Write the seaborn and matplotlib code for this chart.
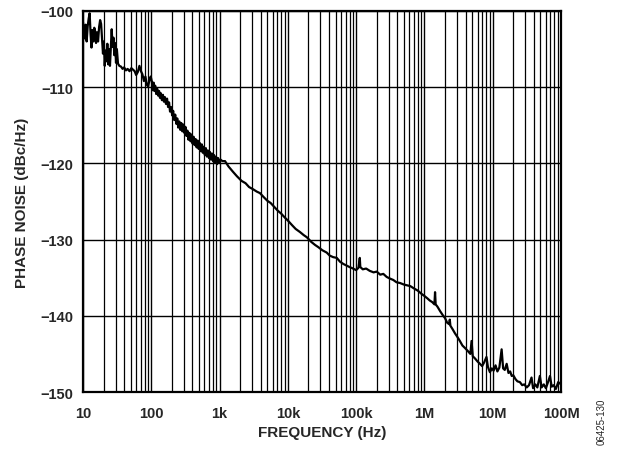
import numpy as np
import pandas as pd
import seaborn as sns
import matplotlib
matplotlib.use("Agg")
import matplotlib.pyplot as plt
from matplotlib.ticker import LogLocator, NullFormatter, FixedLocator

# phase noise, split by frequency band
freq_10_100 = [
    10.0, 10.3, 10.6, 10.9, 11.3, 11.7, 12.1, 12.5, 12.9, 13.3, 13.7, 14.2, 14.6, 15.0,
    15.5, 16.0, 16.6, 17.2, 17.8, 18.4, 19.0, 19.6, 20.2, 20.8, 21.4, 22.0, 22.7, 23.4,
    24.1, 24.8, 25.5, 26.3, 27.1, 27.9, 28.7, 29.5, 30.4, 31.3, 32.5, 34.0, 36.0, 38.0,
    40.0, 42.5, 45.0, 48.0, 51.0, 54.0, 57.0, 60.0, 63.5, 67.0, 70.5, 74.0, 78.0, 82.0,
    86.0, 90.0, 94.0, 98.0,
]
pn_10_100 = [
    -101.5, -102.9, -103.6, -101.8, -104.0, -102.0, -101.0, -100.3, -103.0, -104.8, -102.5,
    -104.0, -102.2, -102.6, -104.2, -102.8, -104.0, -102.1, -101.2, -101.7, -103.8, -105.6,
    -104.0, -107.2, -105.2, -106.6, -104.3, -107.0, -105.0, -107.2, -104.8, -102.4, -104.7,
    -103.5, -105.8, -104.2, -106.8, -105.0, -106.9, -107.2, -107.3, -107.6, -107.4, -107.8,
    -107.6, -107.9, -107.5, -107.7, -107.9, -108.4, -108.0, -107.2, -107.9, -108.3, -109.2,
    -108.6, -109.7, -109.9, -109.0, -108.6,
]
freq_100_1k = [
    102, 105, 108, 111, 114, 118, 122, 126, 130, 134, 138, 143, 148, 153, 158, 164, 170,
    176, 182, 188, 195, 202, 209, 216, 224, 232, 240, 248, 257, 266, 275, 285, 295, 305,
    316, 327, 338, 350, 362, 375, 388, 402, 416, 430, 445, 461, 477, 494, 511, 529, 548,
    567, 587, 608, 629, 651, 674, 698, 722, 747, 773, 800, 828, 857, 887, 918, 950, 985,
]
pn_100_1k = [
    -109.3, -110.4, -109.4, -110.5, -109.8, -110.9, -110.2, -111.1, -110.5, -111.4, -110.8,
    -111.7, -111.0, -111.9, -111.3, -112.2, -111.5, -112.6, -112.0, -113.2, -112.6, -113.7,
    -113.1, -114.3, -113.6, -114.8, -114.1, -115.3, -114.5, -115.6, -114.7, -115.8, -114.9,
    -116.0, -115.2, -116.4, -115.7, -116.9, -116.0, -117.1, -116.2, -117.4, -116.5, -117.6,
    -116.8, -117.9, -117.0, -118.1, -117.3, -118.4, -117.5, -118.6, -117.8, -118.9, -118.0,
    -119.1, -118.3, -119.3, -118.5, -119.5, -118.7, -119.7, -118.9, -119.9, -119.1, -120.1,
    -119.3, -119.9,
]
freq_1k_1M = [
    1030, 1100, 1200, 1350, 1570, 1800, 2100, 2400, 2700, 3100, 3500, 3900, 4400, 5000,
    5600, 6300, 7100, 8000, 9000, 10000, 11500, 13000, 15000, 17000, 19000, 22000, 25000,
    28000, 32000, 37000, 41000, 46000, 52000, 58000, 65000, 72000, 80000, 90000, 100000,
    108000, 113000, 115000, 125000, 140000, 158000, 180000, 200000, 225000, 250000,
    280000, 310000, 350000, 390000, 440000, 500000, 560000, 620000, 700000, 800000, 900000,
]
pn_1k_1M = [
    -119.5, -119.7, -119.7, -120.4, -121.1, -121.7, -122.3, -122.6, -123.1, -123.4, -123.7,
    -123.9, -124.4, -124.9, -125.2, -125.7, -126.2, -126.6, -127.1, -127.5, -128.1, -128.6,
    -129.0, -129.4, -129.7, -130.3, -130.7, -131.0, -131.4, -131.7, -132.1, -132.3, -132.4,
    -132.9, -133.2, -133.4, -133.6, -133.8, -134.0, -133.7, -132.4, -133.6, -133.9, -133.8,
    -134.1, -134.3, -134.2, -134.6, -134.5, -134.9, -135.1, -135.3, -135.6, -135.7, -135.9,
    -136.0, -136.1, -136.4, -136.7, -137.1,
]
freq_1M_100M = [
    1.0e6, 1.1e6, 1.2e6, 1.3e6, 1.4e6, 1.43e6, 1.46e6, 1.55e6, 1.7e6, 1.85e6, 2.0e6,
    2.15e6, 2.3e6, 2.35e6, 2.4e6, 2.6e6, 2.8e6, 3.0e6, 3.3e6, 3.6e6, 3.9e6, 4.3e6, 4.7e6,
    4.9e6, 5.1e6, 5.5e6, 6.0e6, 6.5e6, 7.0e6, 7.5e6, 8.1e6, 8.5e6, 9.1e6, 9.7e6, 10.3e6,
    11.0e6, 11.7e6, 12.5e6, 13.5e6, 14.2e6, 15.0e6, 16.0e6, 17.0e6, 18.0e6, 19.0e6, 20.0e6,
    21.5e6, 23.0e6, 25.0e6, 27.0e6, 29.0e6, 31.5e6, 34.0e6, 37.0e6, 39.0e6, 42.0e6, 45.0e6,
    49.0e6, 52.0e6, 56.0e6, 60.0e6, 64.0e6, 69.0e6, 73.0e6, 78.0e6, 84.0e6, 91.0e6, 100.0e6,
]
pn_1M_100M = [
    -137.4, -137.7, -138.0, -138.2, -138.5, -136.9, -138.5, -138.8, -139.4, -139.9, -140.3,
    -140.9, -141.1, -140.5, -141.3, -141.8, -142.3, -142.7, -143.3, -143.9, -144.2, -144.6,
    -145.0, -143.3, -145.3, -145.6, -146.0, -146.3, -146.6, -146.1, -145.4, -146.7, -147.4,
    -146.9, -147.2, -146.5, -147.3, -146.8, -144.4, -146.9, -147.1, -146.3, -147.5, -147.3,
    -147.9, -147.8, -148.3, -148.6, -148.7, -149.1, -149.0, -149.4, -149.1, -148.1, -149.5,
    -149.0, -149.4, -147.9, -149.4, -149.0, -149.5, -148.8, -147.9, -149.3, -149.1, -149.6,
    -148.7, -149.0,
]
x_ticks = [10, 100, 1e3, 1e4, 1e5, 1e6, 1e7, 1e8]
x_labels = ["10", "100", "1k", "10k", "100k", "1M", "10M", "100M"]
y_ticks = [-150, -140, -130, -120, -110, -100]
y_labels = ["\u2212150", "\u2212140", "\u2212130", "\u2212120", "\u2212110", "\u2212100"]

df = pd.DataFrame({
    "freq": freq_10_100 + freq_100_1k + freq_1k_1M + freq_1M_100M,
    "pn": pn_10_100 + pn_100_1k + pn_1k_1M + pn_1M_100M,
})

sns.set_style("white")
plt.rcParams["font.family"] = ["Liberation Sans", "DejaVu Sans"]

fig = plt.figure(figsize=(6.21, 4.52), dpi=100)
ax = fig.add_axes([0.1337, 0.1305, 0.7697, 0.843])

sns.lineplot(data=df, x="freq", y="pn", ax=ax, color="black", linewidth=1.6,
             sort=False, estimator=None)

ax.set_xscale("log")
ax.set_xlim(10, 1e8)
ax.set_ylim(-150, -100)

ax.xaxis.set_major_locator(FixedLocator(x_ticks))
ax.set_xticklabels(x_labels, fontsize=10.5, fontweight="bold")
ax.xaxis.set_minor_locator(LogLocator(base=10, subs=np.arange(2, 10), numticks=100))
ax.xaxis.set_minor_formatter(NullFormatter())
ax.set_yticks(y_ticks)
ax.set_yticklabels(y_labels, fontsize=10.5, fontweight="bold")

# grid: every log subdivision on x, 10 dB steps on y
ax.grid(True, which="major", axis="both", color="black", linewidth=1.0)
ax.grid(True, which="minor", axis="x", color="black", linewidth=0.9)
ax.set_axisbelow(True)

ax.tick_params(axis="both", which="both", length=0)
ax.tick_params(axis="x", pad=10)
ax.tick_params(axis="y", pad=7)

for s in ax.spines.values():
    s.set_visible(True)
    s.set_color("black")
    s.set_linewidth(1.6)

ax.set_xlabel("FREQUENCY (Hz)", fontsize=11, fontweight="bold", labelpad=4)
ax.set_ylabel("PHASE NOISE (dBc/Hz)", fontsize=11, fontweight="bold", labelpad=8)

fig.text(0.969, 0.066, "06425-130", rotation=90, fontsize=7, ha="center", va="center")

fig.savefig("out.png", dpi=100, facecolor="white")
